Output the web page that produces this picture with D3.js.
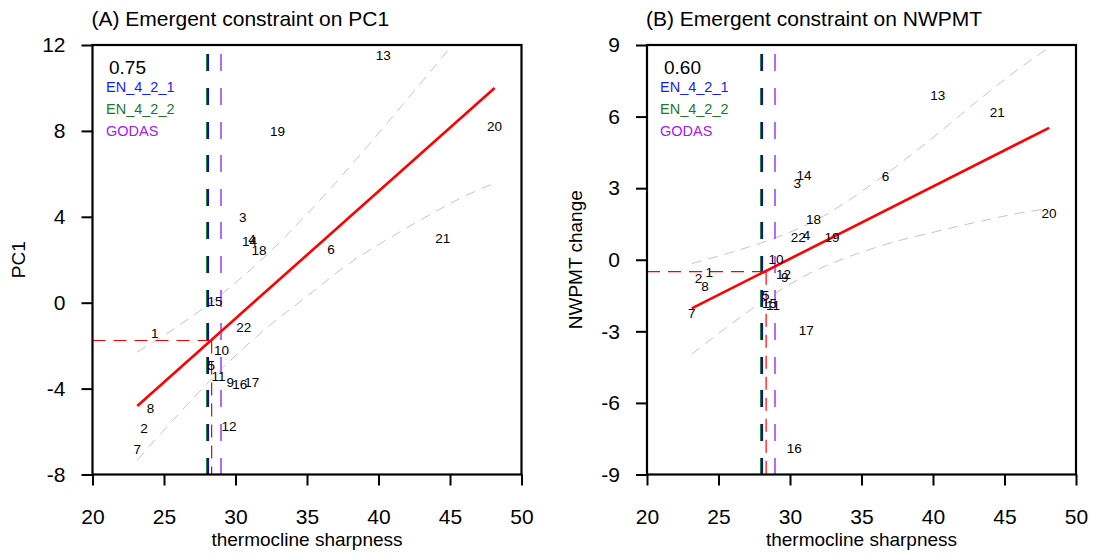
<!DOCTYPE html>
<html><head><meta charset="utf-8">
<script src="https://cdn.jsdelivr.net/npm/d3@7"></script>
<style>
body{margin:0;background:#fff}
svg{display:block}
text{font-family:"Liberation Sans",Arial,Helvetica,sans-serif}
</style>
</head><body>
<svg id="chart" width="1094" height="554"></svg>
<script>
// ---------------- data ----------------
const modelLabels = ["1","2","3","4","5","6","7","8","9","10","11","12","13","14","15","16","17","18","19","20","21","22"];
const sharpness = [24.35,23.6,30.5,31.15,28.3,36.68,23.13,24.06,29.64,29.02,28.82,29.55,40.34,30.98,28.57,30.3,31.14,31.65,32.93,48.11,44.5,30.58];
const pc1   = [-1.43,-5.85,4.00,2.95,-2.90,2.49,-6.83,-4.89,-3.68,-2.23,-3.41,-5.74,11.53,2.87,0.05,-3.79,-3.68,2.45,8.01,8.23,3.0,-1.12];
const nwpmt = [-0.54,-0.78,3.23,1.04,-1.48,3.52,-2.25,-1.10,-0.71,0.02,-1.90,-0.60,6.88,3.55,-1.83,-7.90,-2.94,1.69,0.94,1.97,6.20,0.94];

const obsNames = ["EN_4_2_1","EN_4_2_2","GODAS"];
const obsSharpness = [28.05, 27.99, 28.97];
const constrainedX = 28.33;

const corrA = "0.75", corrB = "0.60";
const fitAx = [23.13, 48.12], fitAy = [-4.81, 10.0];
const fitBx = [23.13, 48.12], fitBy = [-2.04, 5.53];
const constrainedA = -1.76, constrainedB = -0.50;

const bandAx     = [23.13, 26, 29, 32, 35, 38, 41, 44, 46, 48.12];
const bandAupper = [-2.30, -1.08, 0.38, 2.11, 4.13, 6.34, 8.67, 11.06, 12.67, 14.43];
const bandAlower = [-7.32, -5.20, -3.10, -1.27, 0.30, 1.85, 3.10, 4.25, 4.95, 5.57];
const bandBx     = [23.13, 26, 29, 31.5, 34, 37, 40, 43, 46, 48.12];
const bandBupper = [-0.16, 0.33, 0.92, 1.56, 2.45, 3.72, 5.12, 6.60, 8.00, 8.90];
const bandBlower = [-3.96, -2.64, -1.39, -0.53, 0.10, 0.70, 1.15, 1.57, 1.95, 2.15];

const xTicks = [20,25,30,35,40,45,50];
const yTicksA = [-8,-4,0,4,8,12];
const yTicksB = [-9,-6,-3,0,3,6,9];

// ---------------- styles ----------------
const obsLineColors = ["#0000ff","#228b22","#b36bff"];
const obsTextColors = ["#1a1aff","#1f7a1f","#a020f0"];
const svg = d3.select("#chart");
const W = 429, H = 429.5, TOP = 45;

function panel(opt){
  const g = svg.append("g").attr("transform",`translate(${opt.left},${TOP})`);
  const x = d3.scaleLinear().domain([20,50]).range([0,W]);
  const y = d3.scaleLinear().domain(opt.yDomain).range([H,0]);
  const clipId = "clip"+opt.id;
  g.append("clipPath").attr("id",clipId).append("rect").attr("width",W).attr("height",H);
  const inner = g.append("g").attr("clip-path",`url(#${clipId})`);

  // confidence band
  const line = d3.line().x(d=>x(d[0])).y(d=>y(d[1])).curve(d3.curveMonotoneX);
  [opt.bandUpper, opt.bandLower].forEach(arr=>{
    inner.append("path").datum(opt.bandX.map((v,i)=>[v,arr[i]]))
      .attr("d",line).attr("fill","none").attr("stroke","#c4c4c4")
      .attr("stroke-width",1).attr("stroke-dasharray","10,7");
  });

  // observation vertical dashed lines (drawn bottom to top): GODAS, EN_4_2_2, then EN_4_2_1 on top
  [2,1,0].forEach(i=>{
    const v = obsSharpness[i];
    inner.append("line").attr("x1",x(v)).attr("x2",x(v))
      .attr("y1",H).attr("y2",0)
      .attr("stroke",obsLineColors[i]).attr("stroke-width",2)
      .attr("shape-rendering","crispEdges")
      .attr("stroke-dasharray","17,16.6");
  });

  // constrained value red dashes
  inner.append("line").attr("x1",0).attr("x2",x(constrainedX))
    .attr("y1",y(opt.constrained)).attr("y2",y(opt.constrained))
    .attr("stroke","#ff0000").attr("stroke-width",1.2).attr("stroke-dasharray","13,8");
  inner.append("line").attr("x1",x(constrainedX)).attr("x2",x(constrainedX))
    .attr("y1",y(opt.constrained)).attr("y2",H)
    .attr("stroke","#ff0000").attr("stroke-width",1.2).attr("stroke-dasharray","13,8");

  // regression line
  inner.append("line").attr("x1",x(opt.fitX[0])).attr("x2",x(opt.fitX[1]))
    .attr("y1",y(opt.fitY[0])).attr("y2",y(opt.fitY[1]))
    .attr("stroke","#ff0000").attr("stroke-width",2.6);

  // model number labels
  inner.selectAll("text.m").data(modelLabels).enter().append("text")
    .attr("class","m").attr("x",(d,i)=>x(sharpness[i])).attr("y",(d,i)=>y(opt.vals[i]))
    .attr("text-anchor","middle").attr("dy","0.36em")
    .attr("font-size","13.5px").attr("fill","#000").text(d=>d);

  // correlation + legend
  g.append("text").attr("x",opt.corrDx).attr("y",28.5).attr("font-size","19px").text(opt.corr);
  obsNames.forEach((n,i)=>{
    g.append("text").attr("x",opt.legDx).attr("y",46.7+i*22.2)
      .attr("font-size","14.5px").attr("fill",obsTextColors[i]).text(n);
  });

  // axes
  const fmt = d => String(d);
  const xa = g.append("g").attr("transform",`translate(0,${H})`)
    .call(d3.axisBottom(x).tickValues(xTicks).tickSize(11).tickPadding(24).tickFormat(fmt));
  const ya = g.append("g")
    .call(d3.axisLeft(y).tickValues(opt.yTicks).tickSize(11).tickPadding(16).tickFormat(fmt));
  [xa,ya].forEach(a=>{
    a.select(".domain").remove();
    a.selectAll(".tick line").attr("stroke","#000").attr("stroke-width",2);
    a.selectAll(".tick text").attr("font-size","21px").attr("fill","#000")
      .attr("font-family","'Liberation Sans',Arial,Helvetica,sans-serif");
  });
  g.append("rect").attr("width",W).attr("height",H).attr("fill","none")
    .attr("stroke","#000").attr("stroke-width",2.2);

  // titles
  g.append("text").attr("x",-1).attr("y",-19).attr("font-size","21px").text(opt.title);
  g.append("text").attr("x",W/2).attr("y",H+71.5).attr("text-anchor","middle")
    .attr("font-size","19px").text("thermocline sharpness");
  g.append("text").attr("transform",`translate(${opt.ylabX},${H/2}) rotate(-90)`)
    .attr("text-anchor","middle").attr("dy","0.35em").attr("font-size","19px").text(opt.ylabel);
}

panel({id:"A", left:92.5, yDomain:[-8,12], yTicks:yTicksA, vals:pc1,
  fitX:fitAx, fitY:fitAy, constrained:constrainedA,
  bandX:bandAx, bandUpper:bandAupper, bandLower:bandAlower,
  corr:corrA, corrDx:16.5, legDx:13.5,
  title:"(A) Emergent constraint on PC1", ylabel:"PC1", ylabX:-74});
panel({id:"B", left:647, yDomain:[-9,9], yTicks:yTicksB, vals:nwpmt,
  fitX:fitBx, fitY:fitBy, constrained:constrainedB,
  bandX:bandBx, bandUpper:bandBupper, bandLower:bandBlower,
  corr:corrB, corrDx:17, legDx:13,
  title:"(B) Emergent constraint on NWPMT", ylabel:"NWPMT change", ylabX:-72});
</script>
</body></html>
